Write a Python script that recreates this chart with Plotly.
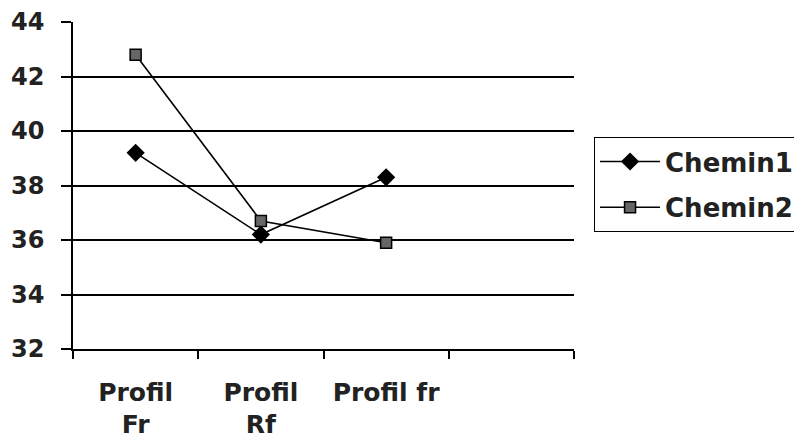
import plotly.graph_objects as go

categories = ["Profil<br>Fr", "Profil<br>Rf", "Profil fr", " "]
chemin1 = [39.2, 36.2, 38.3]
chemin2 = [42.8, 36.7, 35.9]
y_ticks = [32, 34, 36, 38, 40, 42, 44]

FONT = "DejaVu Sans"

fig = go.Figure()
fig.add_trace(go.Scatter(
    x=categories[:3], y=chemin1, name="Chemin1", mode="lines+markers",
    legendgroup="a",
    line=dict(color="black", width=1.6),
    marker=dict(symbol="diamond", size=14, color="black"),
))
fig.add_trace(go.Scatter(
    x=categories[:3], y=chemin2, name="Chemin2", mode="lines+markers",
    legendgroup="b",
    line=dict(color="black", width=1.6),
    marker=dict(symbol="square", size=11, color="#666666",
                line=dict(color="black", width=1.5)),
))

fig.update_layout(
    width=794, height=446,
    margin=dict(l=73, r=220, t=22, b=97, autoexpand=False),
    paper_bgcolor="white", plot_bgcolor="white",
    font=dict(family=FONT, size=25, color="#222", weight="bold"),
    showlegend=True,
    legend=dict(
        x=1.04, xanchor="left", y=0.648, yanchor="top",
        bordercolor="black", borderwidth=1, bgcolor="white",
        font=dict(family=FONT, size=26, color="#222", weight="bold"),
        traceorder="grouped", tracegroupgap=9, itemwidth=60,
    ),
    xaxis=dict(
        type="category", categoryorder="array", categoryarray=categories,
        range=[-0.5, 3.5], tickson="boundaries", automargin=False,
        ticks="outside", ticklen=8, tickcolor="black", tickwidth=1.5,
        showline=True, linecolor="black", linewidth=1.5,
        showgrid=False, zeroline=False,
        ticklabelstandoff=20,
        tickfont=dict(family=FONT, size=25, color="#222", weight="bold"),
    ),
    yaxis=dict(
        range=[32, 44], tickvals=y_ticks, automargin=False,
        ticks="outside", ticklen=10, tickcolor="black", tickwidth=1.5,
        showline=True, linecolor="black", linewidth=1.5,
        showgrid=True, gridcolor="black", gridwidth=1.5,
        zeroline=False,
        ticklabelstandoff=12,
        tickfont=dict(family=FONT, size=24, color="#222", weight="bold"),
    ),
)

fig.write_html("out.html", config={"displayModeBar": False},
               post_script="document.body.style.margin='0';")
